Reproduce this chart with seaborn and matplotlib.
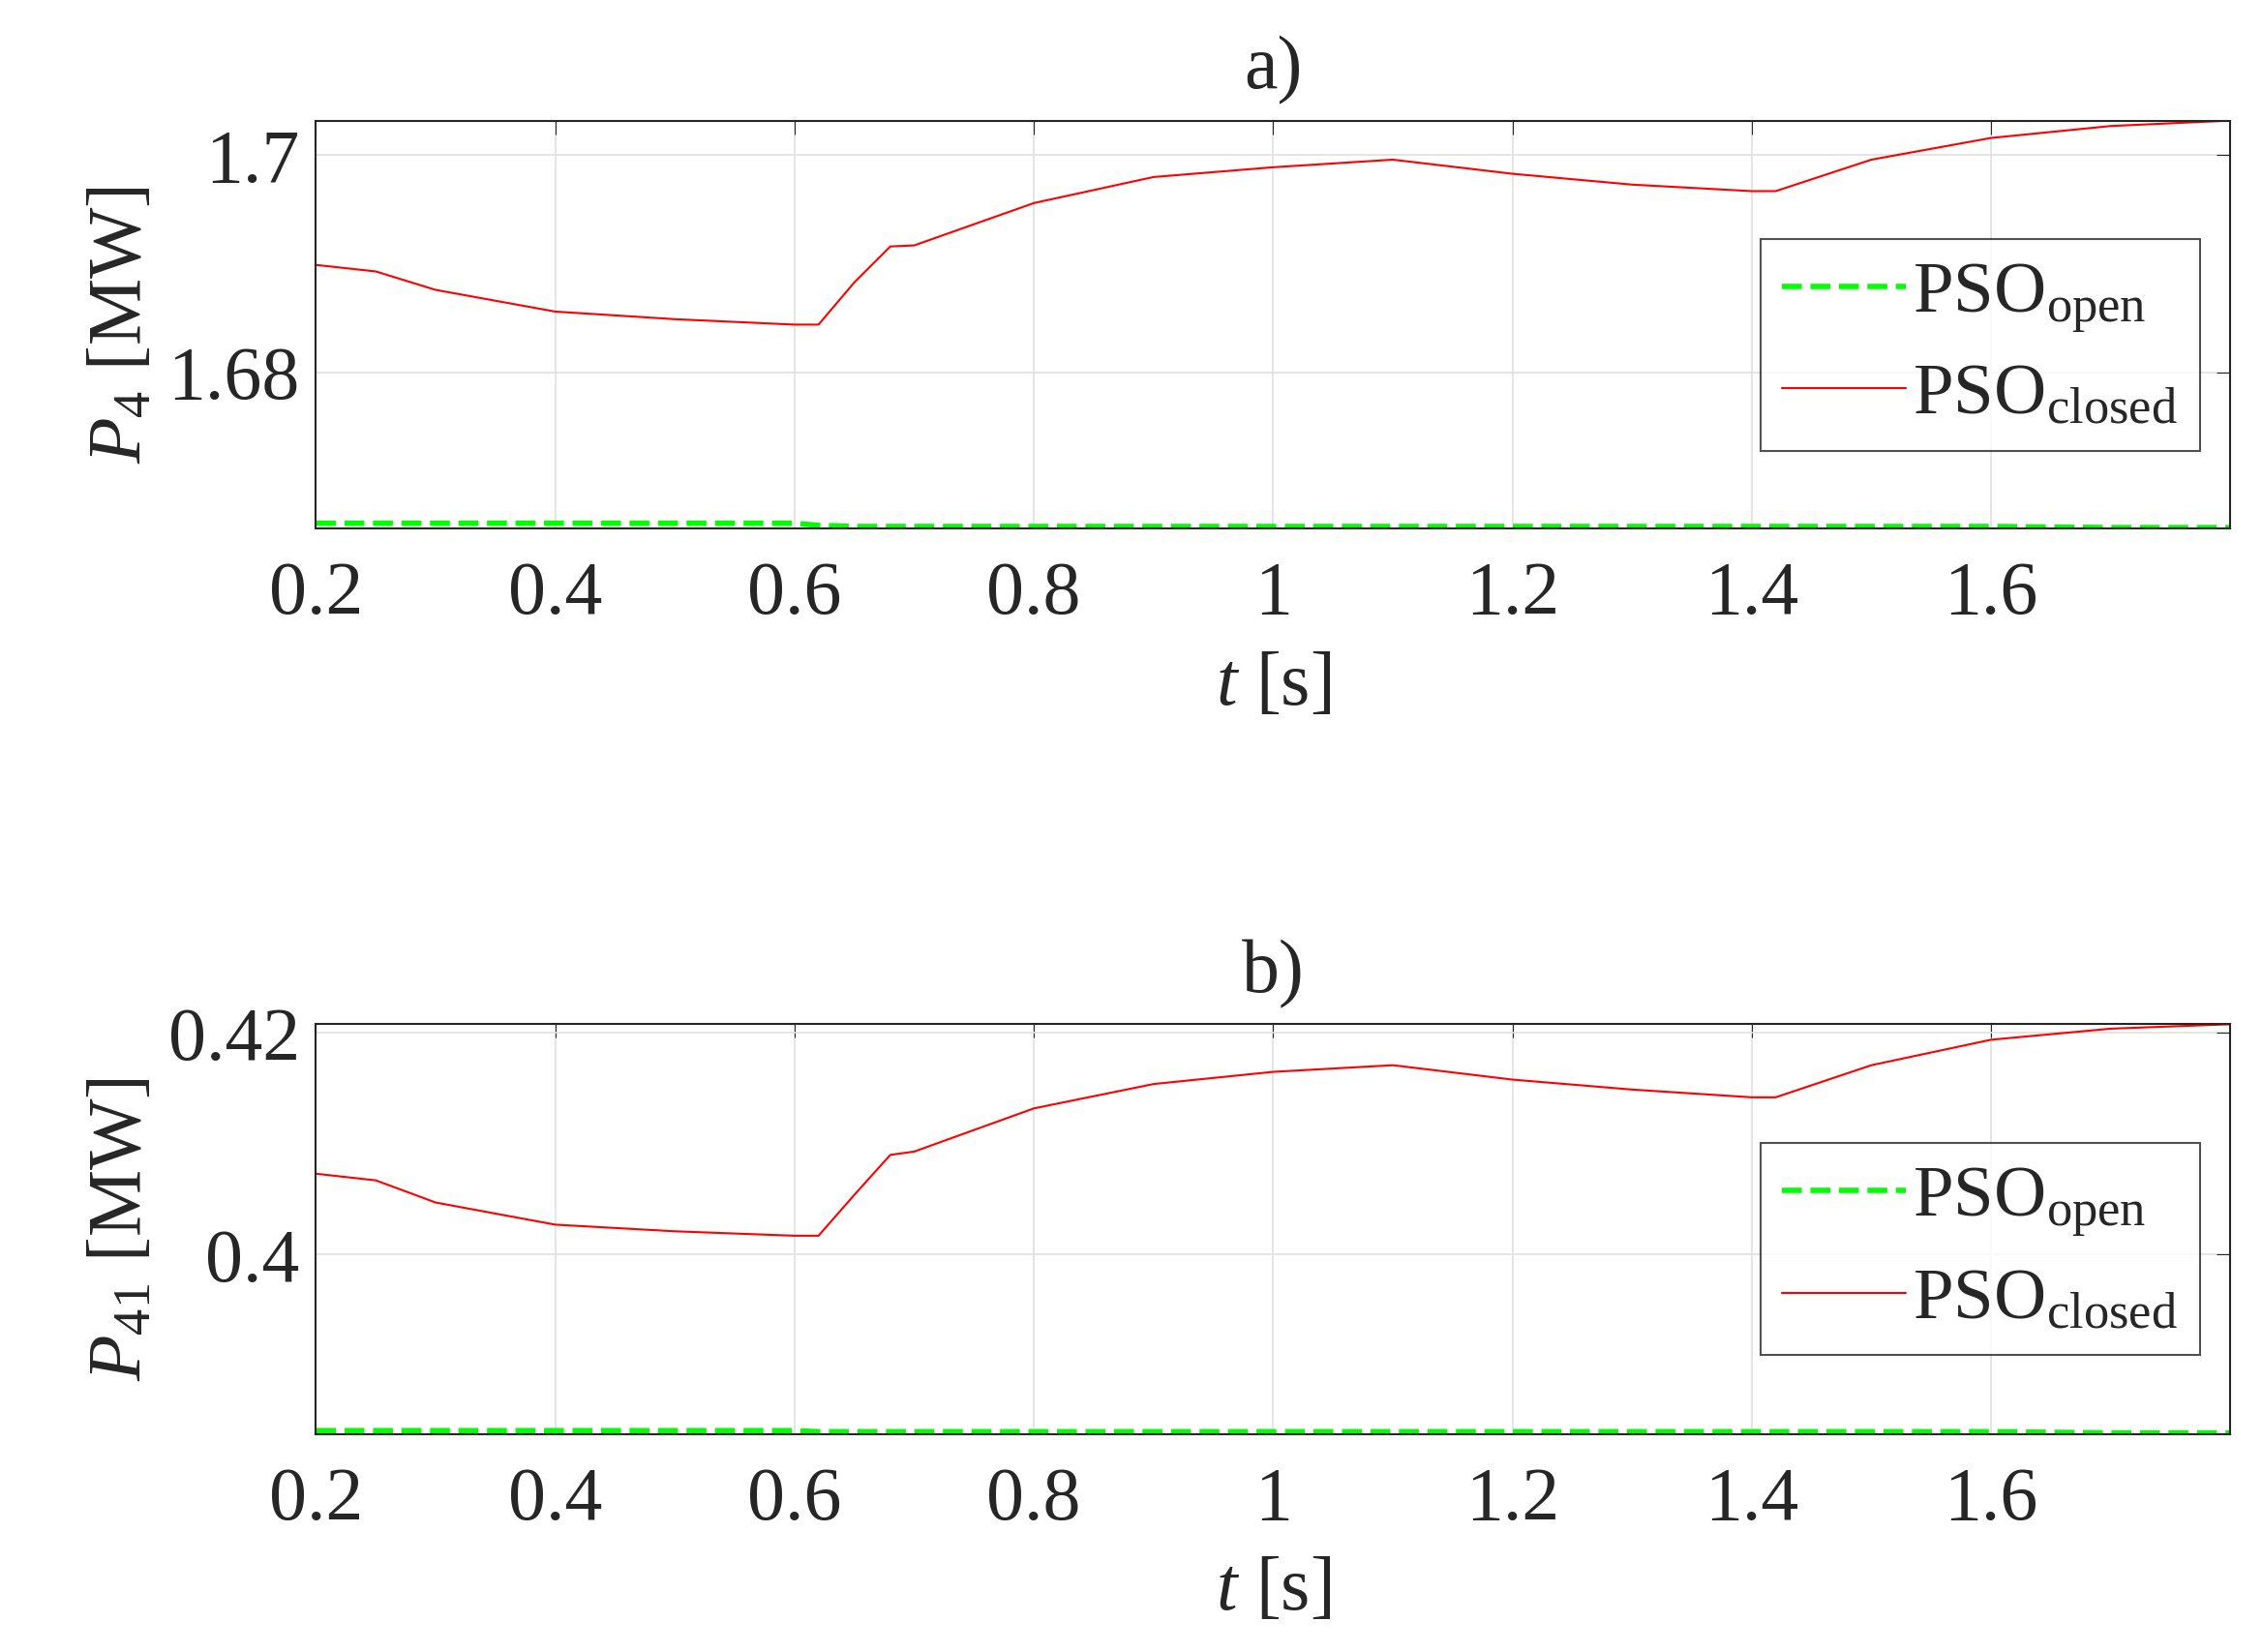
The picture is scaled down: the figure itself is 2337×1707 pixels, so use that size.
import matplotlib

matplotlib.use("Agg")
import matplotlib.pyplot as plt
import pandas as pd
import seaborn as sns

# time samples (s)
t = [0.2, 0.25, 0.3, 0.4, 0.5, 0.6, 0.62, 0.65, 0.68, 0.7, 0.8, 0.9, 1.0, 1.1, 1.2, 1.3, 1.4, 1.42, 1.5, 1.6, 1.7, 1.8]

# a) P4 [MW]
p4_closed = [1.6899, 1.6893, 1.6876, 1.6856, 1.6849, 1.6844, 1.6844, 1.6883, 1.6916, 1.6917,
             1.6956, 1.6980, 1.6989, 1.6996, 1.6983, 1.6973, 1.6967, 1.6967, 1.6996, 1.7016, 1.7027, 1.7032]
p4_open = [1.6661, 1.6661, 1.6661, 1.6661, 1.6661, 1.6661, 1.6659, 1.6658, 1.6658, 1.6658,
           1.6658, 1.6658, 1.6658, 1.6658, 1.6658, 1.6658, 1.6658, 1.6658, 1.6658, 1.6658, 1.6657, 1.6657]

# b) P41 [MW]
p41_closed = [0.4073, 0.4067, 0.4047, 0.4027, 0.4021, 0.4017, 0.4017, 0.4054, 0.4090, 0.4093,
              0.4132, 0.4154, 0.4165, 0.4171, 0.4158, 0.4149, 0.4142, 0.4142, 0.4171, 0.4194, 0.4204, 0.4208]
p41_open = [0.3841, 0.3841, 0.3841, 0.3841, 0.3841, 0.3841, 0.3840, 0.3840, 0.3840, 0.3840,
            0.3840, 0.3840, 0.3840, 0.3840, 0.3840, 0.3840, 0.3840, 0.3840, 0.3840, 0.3840, 0.3839, 0.3839]

sns.set_style("white")
plt.rcParams["font.family"] = ["Liberation Serif", "DejaVu Serif"]
plt.rcParams["mathtext.fontset"] = "custom"
plt.rcParams["mathtext.rm"] = "Liberation Serif"
plt.rcParams["mathtext.it"] = "Liberation Serif:italic"

fig = plt.figure(figsize=(23.37, 17.07), dpi=100)
ax_a = fig.add_axes([0.1397, 0.680, 0.8463, 0.247])
ax_b = fig.add_axes([0.1397, 0.132, 0.8463, 0.248])

panels = [
    (ax_a, p4_open, p4_closed, "a)", r"$\mathit{P}_{\rm 4}$ [MW]", (1.6656, 1.7032), [1.68, 1.70], ["1.68", "1.7"]),
    (ax_b, p41_open, p41_closed, "b)", r"$\mathit{P}_{\rm 41}$ [MW]", (0.3838, 0.4208), [0.40, 0.42], ["0.4", "0.42"]),
]

for ax, y_open, y_closed, title, ylabel, ylim, yticks, yticklabels in panels:
    df = pd.DataFrame({"t": t, "open": y_open, "closed": y_closed})
    sns.lineplot(data=df, x="t", y="open", ax=ax, color="#00ff00", linestyle="--", lw=4,
                 label=r"PSO$_{\rm open}$")
    sns.lineplot(data=df, x="t", y="closed", ax=ax, color="#ff0000", lw=1.5,
                 label=r"PSO$_{\rm closed}$")
    ax.set_xlim(0.2, 1.8)
    ax.set_ylim(*ylim)
    ax.set_xticks([0.2, 0.4, 0.6, 0.8, 1.0, 1.2, 1.4, 1.6])
    ax.set_xticklabels(["0.2", "0.4", "0.6", "0.8", "1", "1.2", "1.4", "1.6"])
    ax.set_yticks(yticks)
    ax.set_yticklabels(yticklabels)
    ax.grid(True, color="#e0e0e0", lw=1.2)
    ax.tick_params(direction="in", labelsize=56, length=10, top=True, right=True)
    ax.tick_params(axis="x", pad=24)
    ax.tick_params(axis="y", pad=12)
    for s in ax.spines.values():
        s.set_color("#262626")
        s.set_linewidth(1.5)
    ax.set_title(title, fontsize=56, pad=24)
    ax.set_xlabel(r"$\mathit{t}$ [s]", fontsize=56, labelpad=16)
    ax.set_ylabel(ylabel, fontsize=56, labelpad=8)
    leg = ax.legend(loc="upper right", bbox_to_anchor=(0.984, 0.71), fontsize=54,
                    frameon=True, fancybox=False, handlelength=1.7, handletextpad=0.1,
                    borderpad=0.3, labelspacing=0.4, borderaxespad=0)
    leg.get_frame().set_edgecolor("#262626")
    leg.get_frame().set_linewidth(1.5)

fig.savefig("out.png", dpi=100)
